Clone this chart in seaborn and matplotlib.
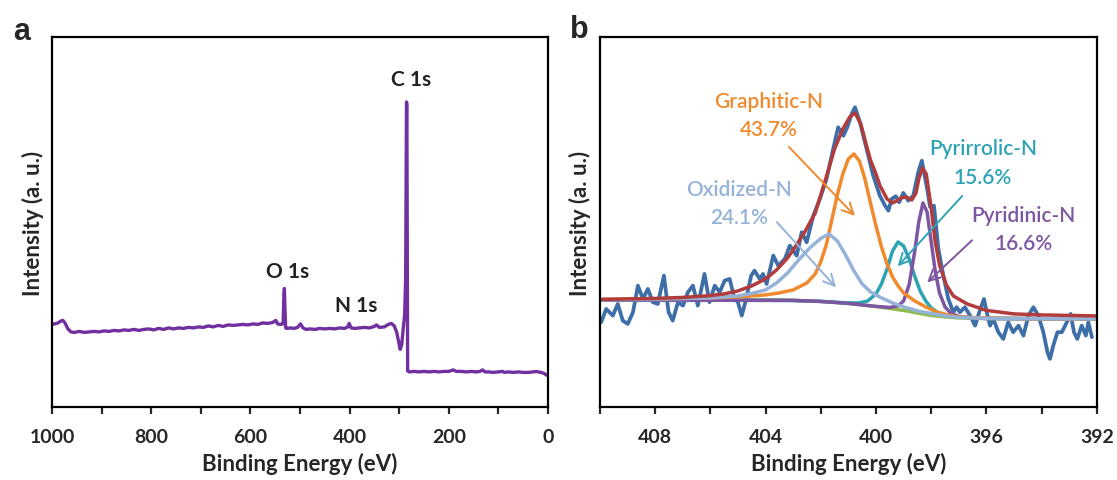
import matplotlib
matplotlib.use("Agg")
import matplotlib.pyplot as plt
import seaborn as sns
import pandas as pd
from matplotlib.ticker import MultipleLocator, FuncFormatter

# ---- panel a : survey spectrum ----
survey_ev = [1000, 995, 988, 982, 978, 974, 968, 962, 955, 945, 935, 925, 915, 905, 895, 885,
             875, 865, 855, 845, 835, 825, 815, 805, 795, 785, 775, 765, 755, 745, 735, 725,
             715, 705, 695, 685, 675, 665, 655, 645, 635, 625, 615, 605, 595, 585, 575, 565,
             555, 549, 545, 540, 535, 534, 532.5, 531.5, 530.5, 529, 526, 520, 512, 505, 499,
             494, 488, 480, 470, 460, 450, 440, 430, 420, 410, 404, 401, 397, 390, 380, 370,
             360, 350, 346, 340, 330, 322, 316, 310, 305, 300, 298, 295, 292, 289, 287, 285.3,
             284.6, 283.8, 283, 280, 270, 260, 250, 240, 230, 220, 210, 200, 191, 185, 175,
             165, 155, 145, 137, 132, 127, 120, 110, 100, 92, 88, 80, 70, 60, 50, 40, 30, 24,
             20, 14, 8, 4, 0]
survey_int = [82.5, 83, 84, 86, 86.5, 84, 78, 75, 74.5, 75.5, 74.5, 75, 75.5, 75, 76, 75.5,
              76.5, 76, 77, 76.5, 77.5, 76.5, 77.5, 78, 77, 78.5, 77.5, 79, 78, 79, 78.5, 79.5,
              79, 80, 79.5, 81, 80, 81.5, 80.5, 82, 81.5, 82, 82.5, 82, 83, 82.5, 84, 83.5,
              84.5, 86.5, 83, 82.5, 83, 84, 112, 118.5, 100, 79, 78.5, 79, 78.5, 79.5, 83,
              79, 77.5, 78, 77.5, 78.5, 78, 78.5, 78, 79, 78.5, 80, 83.5, 79, 78.5, 79, 79.5,
              79, 80.5, 82, 79.5, 80, 82.5, 83.5, 81, 74.5, 62, 57.5, 62, 78, 92, 130, 305,
              302, 150, 36, 35, 35.5, 35, 35.5, 35, 35.5, 35, 35.5, 35.5, 37, 35.5, 35.5,
              35, 35.5, 35, 35.5, 37, 35, 35, 34.5, 35, 35.5, 34.5, 35, 34.5, 35, 34.5, 34.5, 35, 35.5,
              35, 34.5, 33.5, 32, 31.5]

survey_labels = ["C 1s", "O 1s", "N 1s"]
survey_label_ev = [276, 526, 386]
survey_label_int = [328, 136, 102]

# ---- panel b : N 1s high resolution ----
raw_ev = [409.95, 409.77, 409.53, 409.35, 409.17, 408.99, 408.80, 408.62, 408.44, 408.26,
          408.08, 407.90, 407.68, 407.51, 407.36, 407.17, 406.99, 406.81, 406.63, 406.45,
          406.21, 406.03, 405.84, 405.66, 405.48, 405.30, 405.12, 405.00, 404.86, 404.70,
          404.52, 404.40, 404.21, 404.09, 403.96, 403.72, 403.54, 403.30, 403.12, 402.87,
          402.69, 402.51, 402.27, 402.03, 401.79, 401.55, 401.37, 401.18, 401.04, 400.88,
          400.76, 400.58, 400.34, 400.10, 399.86, 399.67, 399.55, 399.43, 399.28, 399.16,
          399.01, 398.83, 398.65, 398.47, 398.34, 398.16, 398.04, 397.90, 397.74, 397.56,
          397.38, 397.20, 397.08, 396.96, 396.78, 396.59, 396.41, 396.26, 396.09, 395.99,
          395.87, 395.75, 395.57, 395.39, 395.21, 395.03, 394.84, 394.66, 394.48, 394.30,
          394.12, 393.94, 393.79, 393.70, 393.58, 393.43, 393.27, 393.09, 392.95, 392.83,
          392.71, 392.55, 392.40, 392.31, 392.18]
raw_int = [84.7, 98, 91.3, 103, 86.3, 83, 94.7, 121.3, 108, 118,
           104.7, 103, 131.3, 94.7, 86.3, 104.7, 101.3, 114.7, 121.3, 101.3,
           133, 104.7, 121.3, 114.7, 126.3, 128, 108, 104.7, 91.3, 108,
           131.3, 136.3, 128, 133, 123, 151.3, 141.3, 148, 161.3, 151.3,
           174.7, 164.7, 191.3, 208, 228, 258, 279.7, 271.3, 279.7, 293,
           299.7, 284.7, 258, 231.3, 211.3, 201.3, 196.3, 208, 210.7, 204.7,
           214, 206.3, 211.3, 234.7, 246.3, 220, 200, 201.3, 158, 131.3,
           108, 94.7, 99.7, 94.7, 99.7, 91.3, 81.3, 94.7, 108, 94.7,
           81.3, 88, 74.7, 68, 84.7, 74.7, 81.3, 71.3, 91.3, 99.7,
           91.3, 74.7, 54.7, 48, 61.3, 74.7, 74.7, 84.7, 93, 74.7,
           68, 81.3, 71.3, 84.7, 69.7]

bg_ev = [410, 403.5, 403, 402, 401, 400.5, 400, 399.5, 399, 398.5, 398, 397.5, 397, 396, 392]
bg_int = [107, 107, 106.5, 105.5, 103.5, 102, 100.5, 98.5, 96.5, 94, 91.5, 90, 89, 88.3, 88]

graphitic_ev = [410, 408, 406, 405, 404, 403.5, 403, 402.5, 402.2, 402, 401.8, 401.6, 401.4,
                401.2, 401.0, 400.8, 400.6, 400.4, 400.2, 400.0, 399.8, 399.6, 399.4, 399.2,
                399.0, 398.6, 398.2, 397.8, 397.4, 397.0, 396, 394, 392]
graphitic_int = [107.5, 108, 109, 110, 112, 114, 117, 124, 133, 145, 162, 187, 212,
                 233, 248, 253, 246, 228, 204, 181, 160, 143, 130, 121,
                 114, 106, 100, 95, 92, 90, 88.8, 88.2, 88]

oxidized_ev = [410, 408, 406, 405, 404.5, 404, 403.6, 403.2, 402.8, 402.4, 402, 401.7, 401.4,
               401.1, 400.8, 400.5, 400.2, 399.8, 399.4, 399, 398.5, 398, 397.5, 397, 396, 392]
oxidized_int = [107.2, 107.8, 109, 111, 113.5, 117, 124, 134, 147, 159, 168.5, 173, 166,
                152, 136, 123, 115, 109, 104, 100, 96, 93.5, 91, 89.5, 88.5, 88]

pyrrolic_ev = [410, 403, 402, 401, 400.6, 400.3, 400.0, 399.8, 399.6, 399.4, 399.2, 399.0,
               398.8, 398.6, 398.4, 398.2, 398.0, 397.8, 397.5, 397, 396, 392]
pyrrolic_int = [107, 106.5, 105.5, 104, 104, 106, 113, 123, 138, 156, 165, 161,
                148, 131, 116, 106, 99, 95, 92, 90, 88.5, 88]

pyridinic_ev = [410, 403, 402, 401, 400, 399.5, 399.2, 399.0, 398.8, 398.6, 398.45, 398.3,
                398.15, 398.0, 397.85, 397.7, 397.5, 397.3, 397, 396.5, 396, 392]
pyridinic_int = [107, 106.5, 105.5, 103.5, 100.5, 99.5, 101, 106, 122, 155, 185, 204,
                 195, 165, 135, 114, 100, 94, 90.5, 89, 88.5, 88]

envelope_ev = [410, 409, 408, 407, 406, 405.5, 405, 404.5, 404, 403.6, 403.2, 403, 402.6,
               402.2, 401.8, 401.5, 401.2, 400.95, 400.76, 400.55, 400.35, 400.2, 400,
               399.85, 399.6, 399.4, 399.25, 399.1, 398.9, 398.7, 398.55, 398.45, 398.32,
               398.18, 398.0, 397.86, 397.7, 397.45, 397.2, 396.7, 396, 395, 394, 392]
envelope_int = [107.5, 108, 108.5, 109.5, 111.3, 113, 116, 121, 128, 137, 149, 157, 174,
                194, 230, 258, 278, 290, 294, 283, 262, 247, 233,
                221, 208, 204, 206, 209, 210, 207, 214, 228, 239,
                233, 199, 166, 142, 122, 111, 103, 96.5, 93, 92, 91]

species = ["Graphitic-N", "Oxidized-N", "Pyrirrolic-N", "Pyridinic-N"]
fractions = ["43.7%", "24.1%", "15.6%", "16.6%"]
label_ev = [403.89, 404.95, 396.12, 394.66]
label_int = [306, 218, 258.5, 192.3]
arrow_tail_ev = [403.22, 403.66, 396.81, 396.45]
arrow_tail_int = [262, 187, 213, 168.5]
arrow_tip_ev = [400.69, 401.38, 399.28, 398.22]
arrow_tip_int = [189, 117.5, 138.6, 122.6]

c_raw = "#3e6ea8"
c_env = "#b23b3b"
c_graphitic = "#f08a2e"
c_oxidized = "#95b3d9"
c_pyrrolic = "#2fa3b6"
c_pyridinic = "#7d56a1"
c_bg = "#8cbc4c"
c_survey = "#7030a0"

sns.set_theme(style="white")
plt.rcParams['font.family'] = ['Lato', 'DejaVu Sans']
plt.rcParams['lines.solid_joinstyle'] = 'round'
plt.rcParams['lines.solid_capstyle'] = 'round'

fig = plt.figure(figsize=(11.17, 4.81), dpi=100)
ax1 = fig.add_axes([0.0466, 0.152, 0.444, 0.769])
ax2 = fig.add_axes([0.537, 0.152, 0.445, 0.769])


def style_axis(ax):
    for sp in ax.spines.values():
        sp.set_visible(True)
        sp.set_color("black")
        sp.set_linewidth(1.6)
    ax.set_yticks([])
    ax.tick_params(axis="x", which="both", direction="out", length=5, width=1.6,
                   bottom=True, labelsize=14, pad=10)
    for lab in ax.get_xticklabels():
        lab.set_fontweight("bold")
    ax.set_xlabel("Binding Energy (eV)", fontsize=16, fontweight="bold", labelpad=5)
    ax.set_ylabel("Intensity (a. u.)", fontsize=16, fontweight="bold", labelpad=6)
    ax.set_ylim(0, 370)


# panel a
sns.lineplot(x=survey_ev, y=survey_int, ax=ax1, color=c_survey, linewidth=2.4,
             estimator=None, sort=False)
ax1.set_xlim(1000, 0)
ax1.xaxis.set_major_locator(MultipleLocator(100))
ax1.xaxis.set_major_formatter(FuncFormatter(lambda v, p: f"{v:.0f}" if round(v) % 200 == 0 else ""))
style_axis(ax1)
for t, xe, yi in zip(survey_labels, survey_label_ev, survey_label_int):
    ax1.text(xe, yi, t, ha="center", va="center", fontsize=15, fontweight="bold", color="#222222")

# panel b
df_raw = pd.DataFrame({"ev": raw_ev, "int": raw_int})
sns.lineplot(data=df_raw, x="ev", y="int", ax=ax2, color=c_raw, linewidth=2.7,
             estimator=None, sort=False)
for xs, ys, col in [(bg_ev, bg_int, c_bg), (pyrrolic_ev, pyrrolic_int, c_pyrrolic),
                    (pyridinic_ev, pyridinic_int, c_pyridinic),
                    (graphitic_ev, graphitic_int, c_graphitic),
                    (oxidized_ev, oxidized_int, c_oxidized),
                    (envelope_ev, envelope_int, c_env)]:
    sns.lineplot(x=xs, y=ys, ax=ax2, color=col, linewidth=2.5, estimator=None, sort=False)
ax2.set_xlim(410, 392)
ax2.xaxis.set_major_locator(MultipleLocator(4))
ax2.xaxis.set_minor_locator(MultipleLocator(2))
style_axis(ax2)

label_colors = [c_graphitic, c_oxidized, c_pyrrolic, c_pyridinic]
for name, frac, xe, yi, col in zip(species, fractions, label_ev, label_int, label_colors):
    ax2.text(xe, yi, name, ha="center", va="center", fontsize=15, fontweight="semibold", color=col)
    ax2.text(xe, yi - 28.5, frac, ha="center", va="center", fontsize=15, fontweight="semibold", color=col)
for xt, yt, xh, yh, col in zip(arrow_tail_ev, arrow_tail_int, arrow_tip_ev, arrow_tip_int, label_colors):
    ax2.annotate("", xy=(xh, yh), xytext=(xt, yt),
                 arrowprops=dict(arrowstyle="->", color=col, lw=1.4, mutation_scale=20))

fig.text(0.019, 0.933, "a", fontsize=22, fontweight="bold", ha="center", va="center",
         family=["Liberation Sans", "DejaVu Sans"])
fig.text(0.519, 0.937, "b", fontsize=22, fontweight="bold", ha="center", va="center",
         family=["Liberation Sans", "DejaVu Sans"])

fig.savefig("out.png", dpi=100)
